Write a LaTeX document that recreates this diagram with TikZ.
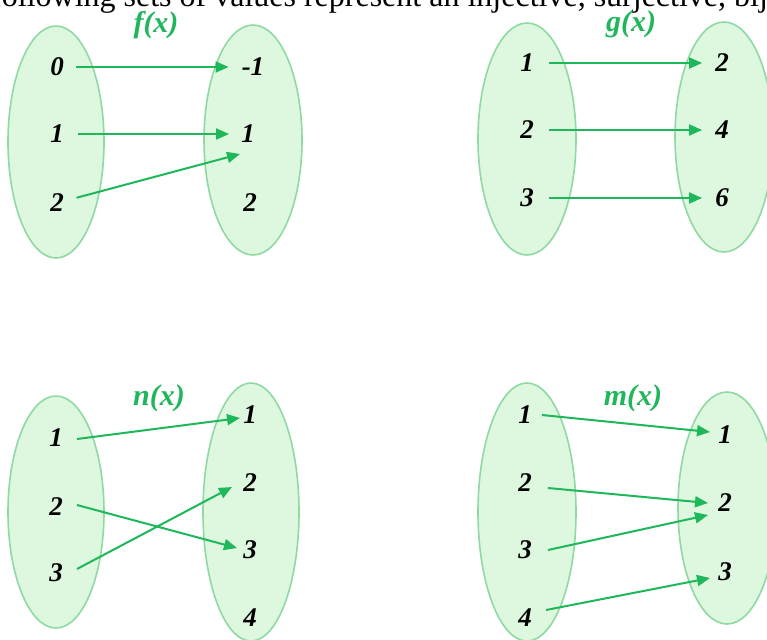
\documentclass[tikz,border=0pt]{standalone}
\usepackage{fontspec}
\setmainfont{Liberation Serif}
\usetikzlibrary{arrows.meta}
\definecolor{setfill}{HTML}{DDF8DE}
\definecolor{setline}{HTML}{8FD9A3}
\definecolor{arrgreen}{HTML}{1EB85A}
\definecolor{titlegreen}{HTML}{22B65C}
\tikzset{
  setbox/.style={fill=setfill, draw=setline, line width=1.6pt},
  val/.style={inner sep=0pt, font=\fontsize{27}{31}\selectfont\bfseries\itshape, text=black},
  ftitle/.style={inner sep=0pt, font=\fontsize{30}{34}\selectfont\bfseries\itshape, text=titlegreen},
  arr/.style={draw=arrgreen, line width=2pt, -{Triangle[length=13pt,width=11pt]}, shorten <=0pt, shorten >=0pt},
}
\begin{document}
\begin{tikzpicture}[x=1pt,y=-1pt]
\useasboundingbox (0,0) rectangle (767,639);
\clip (0,0) rectangle (767,639);
\fill[white] (0,0) rectangle (767,639);
% header text (cut off)
\node[anchor=base west, inner sep=0pt, font=\fontsize{32}{36}\selectfont] (head) at (-9,7) {following sets of values represent an injective, surjective, bijective};
% ---------- f(x)
\draw[setbox] (56,142) ellipse [x radius=48pt, y radius=116pt];
\draw[setbox] (253,140) ellipse [x radius=49pt, y radius=115pt];
\node[ftitle] (ft) at (156,25) {f(x)};
\node[val] (fa0) at (57,67) {0};
\node[val] (fa1) at (57,134) {1};
\node[val] (fa2) at (57,203) {2};
\node[val] (fbm1) at (253,67) {-1};
\node[val] (fb1) at (248,134) {1};
\node[val] (fb2) at (250,203) {2};
\coordinate (fend) at (240,154);
\draw[arr, shorten <=12pt, shorten >=13pt] (fa0) -- (fbm1);
\draw[arr, shorten <=14pt, shorten >=12pt] (fa1) -- (fb1);
\draw[arr, shorten <=13pt] (fa2) -- (fend);
% ---------- g(x)
\draw[setbox] (527,139) ellipse [x radius=49pt, y radius=116pt];
\draw[setbox] (724,137) ellipse [x radius=49pt, y radius=115pt];
\node[ftitle] (gt) at (631,24) {g(x)};
\node[val] (ga1) at (527,63) {1};
\node[val] (ga2) at (527,130) {2};
\node[val] (ga3) at (527,198) {3};
\node[val] (gb2) at (722,63) {2};
\node[val] (gb4) at (722,130) {4};
\node[val] (gb6) at (722,198) {6};
\draw[arr, shorten <=15pt, shorten >=13pt] (ga1) -- (gb2);
\draw[arr, shorten <=15pt, shorten >=13pt] (ga2) -- (gb4);
\draw[arr, shorten <=15pt, shorten >=13pt] (ga3) -- (gb6);
% ---------- n(x)
\draw[setbox] (56,512) ellipse [x radius=48pt, y radius=116pt];
\draw[setbox] (251,512) ellipse [x radius=48pt, y radius=129pt];
\node[ftitle] (nt) at (159,398) {n(x)};
\node[val] (na1) at (56,438) {1};
\node[val] (na2) at (56,507) {2};
\node[val] (na3) at (56,573) {3};
\node[val] (nb1) at (250,415) {1};
\node[val] (nb2) at (250,483) {2};
\node[val] (nb3) at (250,550) {3};
\node[val] (nb4) at (250,618) {4};
\coordinate (ns1) at (77,439);
\coordinate (ne1) at (240,418);
\coordinate (ns2) at (77,505);
\coordinate (ne2) at (237,548);
\coordinate (ns3) at (77,569);
\coordinate (ne3) at (232,487);
\draw[arr] (ns1) -- (ne1);
\draw[arr] (ns2) -- (ne2);
\draw[arr] (ns3) -- (ne3);
% ---------- m(x)
\draw[setbox] (527,512) ellipse [x radius=49pt, y radius=129pt];
\draw[setbox] (727,508) ellipse [x radius=49pt, y radius=116pt];
\node[ftitle] (mt) at (633,398) {m(x)};
\node[val] (ma1) at (525,415) {1};
\node[val] (ma2) at (525,483) {2};
\node[val] (ma3) at (525,550) {3};
\node[val] (ma4) at (525,618) {4};
\node[val] (mb1) at (725,435) {1};
\node[val] (mb2) at (725,503) {2};
\node[val] (mb3) at (725,572) {3};
\coordinate (ms1) at (542,415);
\coordinate (me1) at (710,432);
\coordinate (ms2) at (548,488);
\coordinate (me2) at (708,503);
\coordinate (ms3) at (548,550);
\coordinate (me3) at (708,515);
\coordinate (ms4) at (546,610);
\coordinate (me4) at (710,578);
\draw[arr] (ms1) -- (me1);
\draw[arr] (ms2) -- (me2);
\draw[arr] (ms3) -- (me3);
\draw[arr] (ms4) -- (me4);
\end{tikzpicture}
\end{document}
